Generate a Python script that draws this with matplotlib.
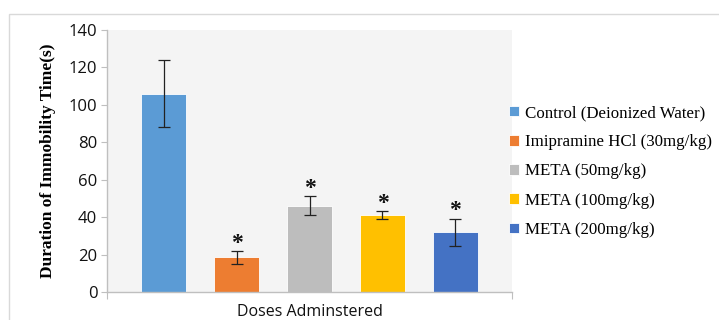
import matplotlib.pyplot as plt
from matplotlib.patches import Rectangle

# Forced swim test: immobility time per treatment group
groups = ['Control (Deionized Water)', 'Imipramine HCl (30mg/kg)',
          'META (50mg/kg)', 'META (100mg/kg)', 'META (200mg/kg)']
means = [106, 18.5, 46.2, 41.1, 31.9]
errors = [17.8, 3.4, 5.2, 2.0, 7.3]
significant = [False, True, True, True, True]
colors = ['#5b9bd5', '#ed7d31', '#bdbdbd', '#ffc000', '#4472c4']

fig = plt.figure(figsize=(7.19, 3.2), dpi=100)

# light frame around the chart area
fig.patches.append(Rectangle((9 / 719, -0.1), 1.2, (320 - 14) / 320 + 0.1,
                             transform=fig.transFigure, fill=False,
                             edgecolor='#d9d9d9', linewidth=1.0))

ax = fig.add_axes([107 / 719, (320 - 292) / 320, 405 / 719, 262 / 320])
ax.set_facecolor('#f4f4f4')

x = list(range(len(groups)))
ax.bar(x, means, width=0.62, color=colors, edgecolor='white',
       linewidth=0.6, label=groups, zorder=2)
ax.errorbar(x, means, yerr=errors, fmt='none', ecolor='#222222',
            elinewidth=0.9, capsize=4, capthick=0.9, zorder=3)
for xi, m, e, s in zip(x, means, errors, significant):
    if s:
        ax.text(xi, m + e - 1.5, '*', ha='center', va='bottom',
                fontsize=17, fontweight='bold', family='Liberation Serif',
                color='#111111')

ax.set_xlim(-0.775, 4.775)
ax.set_ylim(0, 140)
ax.set_yticks(range(0, 141, 20))
ax.set_xticks([-0.775, 4.775])
ax.set_xticklabels([])
ax.tick_params(axis='y', length=4, color='#bfbfbf', labelsize=12,
               labelcolor='#111111', pad=3)
ax.tick_params(axis='x', length=5, color='#bfbfbf')
for lbl in ax.get_yticklabels():
    lbl.set_family('Open Sans')
for side in ['top', 'right']:
    ax.spines[side].set_visible(False)
for side in ['left', 'bottom']:
    ax.spines[side].set_color('#bfbfbf')
    ax.spines[side].set_linewidth(1.0)

ax.set_ylabel('Duration of Immobility Time(s)', family='Liberation Serif',
              fontweight='bold', fontsize=12.5, labelpad=9)
ax.set_xlabel('Doses Adminstered', family='Open Sans', fontsize=11.5,
              labelpad=0, color='#111111')

leg = ax.legend(loc='center left', bbox_to_anchor=(0.972, 0.46),
                frameon=False,
                prop={'family': 'Liberation Serif', 'size': 12.2},
                handlelength=0.6, handleheight=0.6, handletextpad=0.35,
                labelspacing=0.78, borderaxespad=0.1)

fig.savefig('out.png', dpi=100)
